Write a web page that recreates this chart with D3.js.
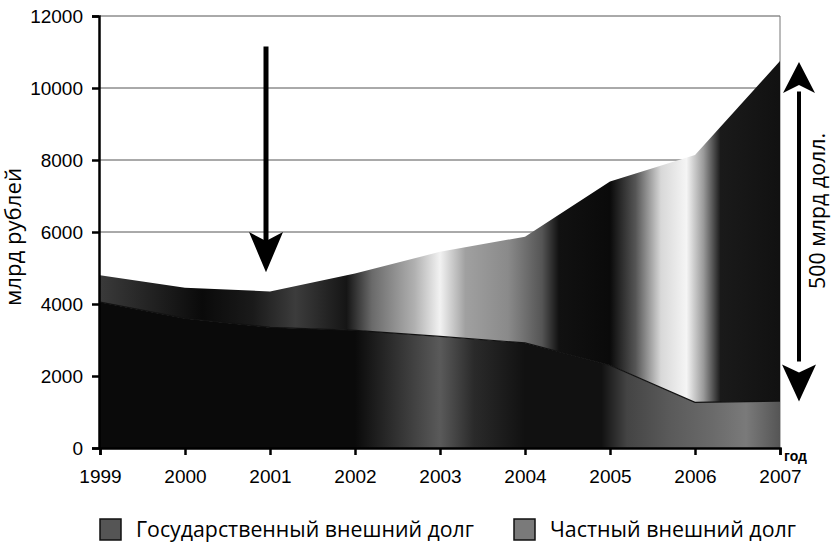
<!DOCTYPE html>
<html><head><meta charset="utf-8">
<script src="https://cdn.jsdelivr.net/npm/d3@7"></script>
<style>body{margin:0;background:#fff}svg{display:block}</style>
</head><body>
<svg id="c" width="834" height="546"></svg>
<script>
const years = [1999, 2000, 2001, 2002, 2003, 2004, 2005, 2006, 2007];
const govDebt = [4050, 3600, 3350, 3270, 3100, 2920, 2300, 1270, 1300];
const privateDebt = [750, 850, 1000, 1580, 2350, 2950, 5100, 6870, 9450];
const yTicks = [0, 2000, 4000, 6000, 8000, 10000, 12000];
const seriesNames = ["Государственный внешний долг", "Частный внешний долг"];

const svg = d3.select("#c");
const x = d3.scaleLinear().domain([1999, 2007]).range([100, 780]);
const y = d3.scaleLinear().domain([0, 12000]).range([448, 16]);

const rows = years.map((yr, i) => ({year: yr, gov: govDebt[i], priv: privateDebt[i]}));
const stack = d3.stack().keys(["gov", "priv"])(rows);

const defs = svg.append("defs");
function grad(id, stops) {
  const g = defs.append("linearGradient").attr("id", id)
    .attr("gradientUnits", "userSpaceOnUse")
    .attr("x1", x(1999)).attr("x2", x(2007)).attr("y1", 0).attr("y2", 0);
  stops.forEach(([yr, c]) => g.append("stop")
    .attr("offset", (x(yr) - x(1999)) / (x(2007) - x(1999))).attr("stop-color", c));
}
grad("gPriv", [[1999, "#3a3a3a"], [1999.6, "#222"], [2000.2, "#0a0a0a"], [2000.8, "#1a1a1a"],
  [2001.3, "#3c3c3c"], [2001.9, "#151515"], [2002.2, "#6a6a6a"], [2002.7, "#b0b0b0"],
  [2003.0, "#f2f2f2"], [2003.3, "#a0a0a0"], [2003.8, "#8a8a8a"], [2004.2, "#555"],
  [2004.4, "#111"], [2005.0, "#0a0a0a"], [2005.3, "#555"], [2005.6, "#d8d8d8"],
  [2005.9, "#f5f5f5"], [2006.1, "#9a9a9a"], [2006.3, "#1a1a1a"], [2007, "#111"]]);
grad("gGov", [[1999, "#0a0a0a"], [2002.0, "#0a0a0a"], [2002.4, "#2a2a2a"], [2003.0, "#5a5a5a"],
  [2003.4, "#2a2a2a"], [2004.0, "#111"], [2004.9, "#111"], [2005.2, "#444"],
  [2005.7, "#5a5a5a"], [2006.2, "#6a6a6a"], [2006.6, "#7a7a7a"], [2007, "#555"]]);

// gridlines and right frame line
svg.append("g").selectAll("line").data(yTicks.filter(d => d > 0)).join("line")
  .attr("x1", x(1999)).attr("x2", x(2007))
  .attr("y1", d => y(d)).attr("y2", d => y(d))
  .attr("stroke", "#555").attr("stroke-width", 1);
svg.append("line").attr("x1", x(2007)).attr("x2", x(2007)).attr("y1", y(12000)).attr("y2", y(0))
  .attr("stroke", "#777").attr("stroke-width", 1);

const area = d3.area().x(d => x(d.data.year)).y0(d => y(d[0])).y1(d => y(d[1]));
svg.append("g").selectAll("path").data(stack).join("path")
  .attr("d", area)
  .attr("fill", (d, i) => i === 0 ? "url(#gGov)" : "url(#gPriv)");
svg.append("path").datum(stack[0])
  .attr("d", d3.line().x(d => x(d.data.year)).y(d => y(d[1])))
  .attr("fill", "none").attr("stroke", "#111").attr("stroke-width", 1.2);

// axes
const tickFont = "Liberation Sans, Arial, sans-serif";
const yAxis = d3.axisLeft(y).tickValues(yTicks).tickSize(7).tickFormat(d3.format("d"));
const gy = svg.append("g").attr("transform", `translate(${x(1999) - 1},0)`).call(yAxis);
gy.select(".domain").attr("stroke", "#000").attr("stroke-width", 2.5);
gy.selectAll(".tick line").attr("stroke", "#000").attr("stroke-width", 2.5);
gy.selectAll("text").attr("font-family", tickFont)
  .attr("font-size", 19).attr("fill", "#000").attr("x", -16);

const xAxis = d3.axisBottom(x).tickValues(years).tickSize(7).tickFormat(d3.format("d"));
const gx = svg.append("g").attr("transform", `translate(0,${y(0)})`).call(xAxis);
gx.select(".domain").attr("stroke", "#000").attr("stroke-width", 2.5);
gx.selectAll(".tick line").attr("stroke", "#000").attr("stroke-width", 2.5);
gx.selectAll("text").attr("font-family", tickFont)
  .attr("font-size", 19).attr("fill", "#000").attr("y", 22).attr("dy", "0.71em");

// axis titles
const labelFont = "Open Sans, sans-serif";
svg.append("text").attr("transform", "translate(21,237) rotate(-90)")
  .attr("text-anchor", "middle").attr("font-family", labelFont)
  .attr("font-size", 21).attr("textLength", 138).attr("lengthAdjust", "spacingAndGlyphs")
  .text("млрд рублей");
svg.append("text").attr("x", 784).attr("y", 461)
  .attr("font-family", tickFont).attr("font-weight", "bold")
  .attr("font-size", 14).text("год");

// annotation arrows
const ax = x(2001) - 4;
svg.append("line").attr("x1", ax).attr("x2", ax).attr("y1", y(11150)).attr("y2", y(5500))
  .attr("stroke", "#000").attr("stroke-width", 5);
svg.append("path")
  .attr("d", `M${ax - 17},${y(6000)} L${ax},${y(5750)} L${ax + 17},${y(6000)} L${ax},${y(4880)} Z`)
  .attr("fill", "#000");

const bx = 799;
svg.append("line").attr("x1", bx).attr("x2", bx).attr("y1", y(9900)).attr("y2", y(2400))
  .attr("stroke", "#000").attr("stroke-width", 4);
svg.append("path")
  .attr("d", `M${bx},${y(10720)} L${bx + 16},${y(9860)} L${bx},${y(10080)} L${bx - 16},${y(9860)} Z`)
  .attr("fill", "#000");
svg.append("path")
  .attr("d", `M${bx},${y(1290)} L${bx + 17},${y(2320)} L${bx},${y(2100)} L${bx - 17},${y(2320)} Z`)
  .attr("fill", "#000");
svg.append("text").attr("transform", `translate(825,211) rotate(-90)`)
  .attr("text-anchor", "middle").attr("font-family", labelFont)
  .attr("font-size", 21).attr("textLength", 156).attr("lengthAdjust", "spacingAndGlyphs")
  .text("500 млрд долл.");

// legend
const legendX = [100, 514];
const legendLen = [338, 246];
const swatch = ["#555", "#7a7a7a"];
const lg = svg.append("g").selectAll("g").data(seriesNames).join("g")
  .attr("transform", (d, i) => `translate(${legendX[i]},519)`);
lg.append("rect").attr("width", 21).attr("height", 21).attr("fill", (d, i) => swatch[i])
  .attr("stroke", "#111").attr("stroke-width", 1.5);
lg.append("text").attr("x", 36).attr("y", 18).attr("font-family", labelFont)
  .attr("font-size", 21).attr("textLength", (d, i) => legendLen[i])
  .attr("lengthAdjust", "spacingAndGlyphs").text(d => d);
</script>
</body></html>
